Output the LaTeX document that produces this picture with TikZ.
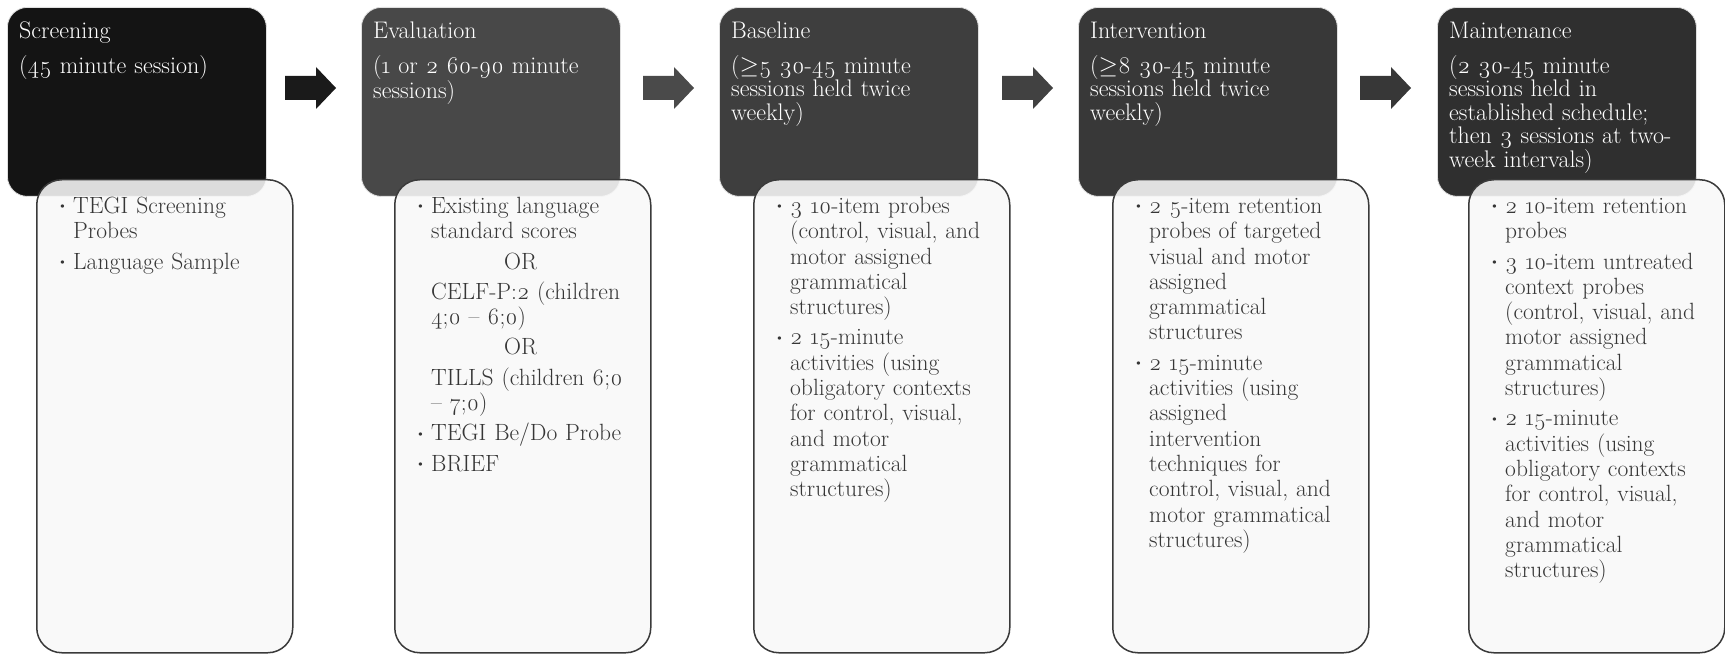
\documentclass[tikz,border=0pt]{standalone}
\usepackage{fontspec}
\setmainfont{Latin Modern Roman}[Numbers=OldStyle]
\definecolor{stagezero}{HTML}{141414}
\definecolor{stageone}{HTML}{484848}
\definecolor{stagetwo}{HTML}{3E3E3E}
\definecolor{stagethree}{HTML}{383838}
\definecolor{stagefour}{HTML}{2F2F2F}
\definecolor{arrowzero}{HTML}{1A1A1A}
\definecolor{arrowone}{HTML}{4A4A4A}
\definecolor{arrowtwo}{HTML}{414141}
\definecolor{arrowthree}{HTML}{373737}
\definecolor{detailfill}{HTML}{F8F8F8}
\definecolor{detailline}{HTML}{3A3A3A}
\definecolor{detailink}{HTML}{363636}
\newcommand{\bitem}{\par\noindent\hangindent=16pt\hangafter=1%
  \makebox[16pt][l]{\raisebox{2.5pt}{\fontsize{15}{15}\selectfont\textbullet}}}
\newcommand{\pitem}{\par\noindent\hangindent=16pt\hangafter=0}
\tikzset{
  stagebox/.style={rectangle, rounded corners=20pt, draw=gray!25, line width=0.8pt,
                   minimum width=259pt, minimum height=189pt, inner sep=0pt, anchor=north west},
  stagetext/.style={anchor=north west, text width=244pt, align=left, inner sep=0pt,
                    text=white, font=\fontsize{24}{23.5}\selectfont},
  detailbox/.style={rectangle, rounded corners=25pt, draw=detailline, line width=1.5pt,
                    fill=detailfill, fill opacity=0.88, minimum width=256pt, minimum height=473pt,
                    inner sep=0pt, anchor=north west},
  detailtext/.style={anchor=north west, text width=230pt, align=left, inner sep=0pt,
                     text=detailink, font=\fontsize{23.5}{25.3}\selectfont,
                     execute at begin node={\setlength{\parskip}{5pt}}},
}

\begin{document}
\begin{tikzpicture}[x=1pt, y=-1pt]
  \useasboundingbox (0,0) rectangle (1725,655);
  % stage headers
  \node[stagebox, fill=stagezero] (scr) at (7,7) {};
  \node[stagebox, fill=stageone] (eva) at (361,7) {};
  \node[stagebox, fill=stagetwo] (bas) at (719,7) {};
  \node[stagebox, fill=stagethree] (itv) at (1078,7) {};
  \node[stagebox, fill=stagefour] (mnt) at (1437,7) {};
  \node[stagetext] (scrt) at ([xshift=12pt, yshift=-15pt]scr.north west)
    {Screening\\[11pt](45 minute session)};
  \node[stagetext] (evat) at ([xshift=12pt, yshift=-15pt]eva.north west)
    {Evaluation\\[11pt](1 or 2 60-90 minute\\sessions)};
  \node[stagetext] (bast) at ([xshift=12pt, yshift=-15pt]bas.north west)
    {Baseline\\[11pt]($\geq$5 30-45 minute\\sessions held twice\\weekly)};
  \node[stagetext] (itvt) at ([xshift=12pt, yshift=-15pt]itv.north west)
    {Intervention\\[11pt]($\geq$8 30-45 minute\\sessions held twice\\weekly)};
  \node[stagetext] (mntt) at ([xshift=12pt, yshift=-15pt]mnt.north west)
    {Maintenance\\[11pt](2 30-45 minute\\sessions held in\\established schedule;\\then 3 sessions at two-\\week intervals)};
  % arrows between stages
  \foreach \x/\c in {285/arrowzero, 643/arrowone, 1002/arrowtwo, 1360/arrowthree}
    \fill[\c] (\x,76) -- ++(31,0) -- ++(0,-9) -- ++(20,21) -- ++(-20,21) -- ++(0,-9) -- ++(-31,0) -- cycle;
  % detail boxes
  \node[detailbox] (scrd) at (36,179) {};
  \node[detailbox] (evad) at (394,179) {};
  \node[detailbox] (basd) at (753,179) {};
  \node[detailbox] (itvd) at (1112,179) {};
  \node[detailbox] (mntd) at (1468,179) {};
  \node[detailtext] (scrdt) at ([xshift=21pt, yshift=-4pt]scrd.north west)
    {\bitem TEGI Screening\newline Probes
     \bitem Language Sample\par};
  \node[detailtext] (evadt) at ([xshift=21pt, yshift=-4pt]evad.north west)
    {\bitem Existing language\newline standard scores
     \pitem\hspace*{73pt}OR
     \pitem CELF-P:2 (children\newline 4;0 – 6;0)
     \pitem\hspace*{73pt}OR
     \pitem TILLS (children 6;0\newline – 7;0)
     \bitem TEGI Be/Do Probe
     \bitem BRIEF\par};
  \node[detailtext] (basdt) at ([xshift=21pt, yshift=-4pt]basd.north west)
    {\bitem 3 10-item probes\newline (control, visual, and\newline motor assigned\newline grammatical\newline structures)
     \bitem 2 15-minute\newline activities (using\newline obligatory contexts\newline for control, visual,\newline and motor\newline grammatical\newline structures)\par};
  \node[detailtext] (itvdt) at ([xshift=21pt, yshift=-4pt]itvd.north west)
    {\bitem 2 5-item retention\newline probes of targeted\newline visual and motor\newline assigned\newline grammatical\newline structures
     \bitem 2 15-minute\newline activities (using\newline assigned\newline intervention\newline techniques for\newline control, visual, and\newline motor grammatical\newline structures)\par};
  \node[detailtext] (mntdt) at ([xshift=21pt, yshift=-4pt]mntd.north west)
    {\bitem 2 10-item retention\newline probes
     \bitem 3 10-item untreated\newline context probes\newline (control, visual, and\newline motor assigned\newline grammatical\newline structures)
     \bitem 2 15-minute\newline activities (using\newline obligatory contexts\newline for control, visual,\newline and motor\newline grammatical\newline structures)\par};
\end{tikzpicture}
\end{document}
